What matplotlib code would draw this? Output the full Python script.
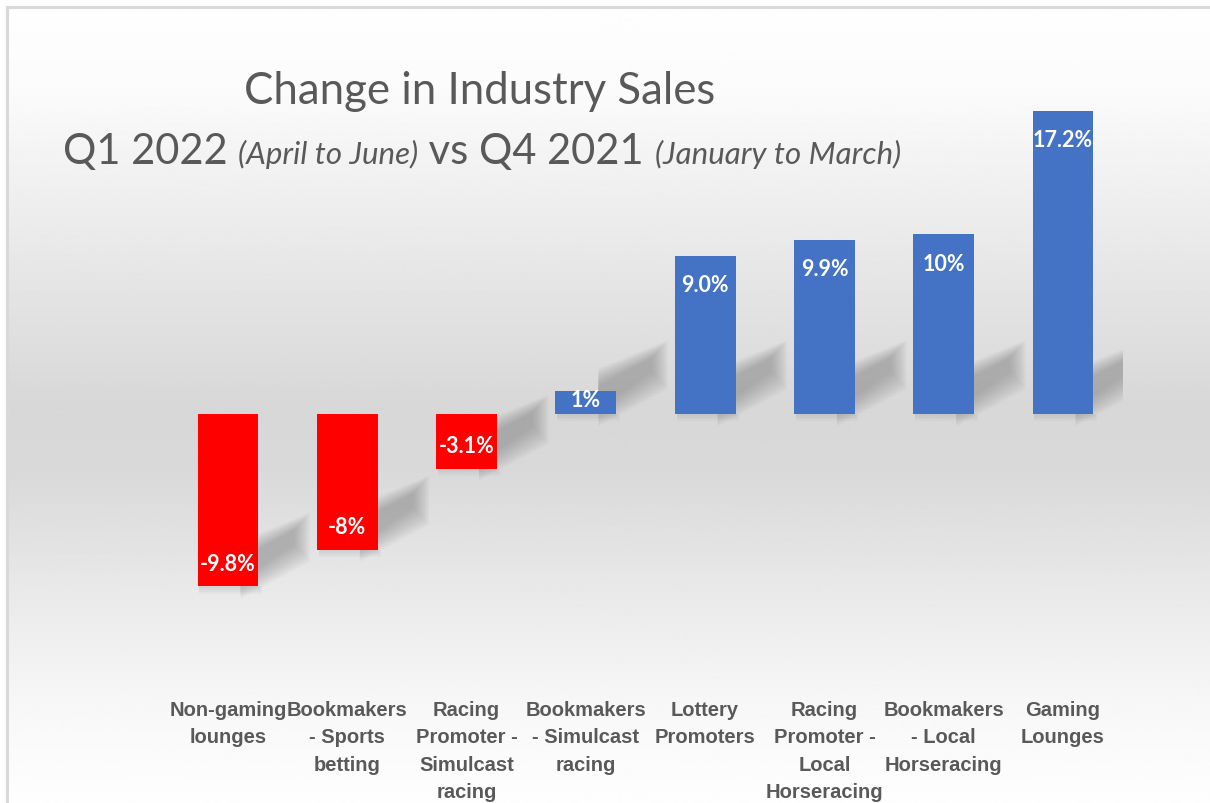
import matplotlib.pyplot as plt
from matplotlib.lines import Line2D
from matplotlib.patches import Polygon
import numpy as np

categories = ['Non-gaming\nlounges', 'Bookmakers\n- Sports\nbetting',
              'Racing\nPromoter -\nSimulcast\nracing', 'Bookmakers\n- Simulcast\nracing',
              'Lottery\nPromoters', 'Racing\nPromoter -\nLocal\nHorseracing',
              'Bookmakers\n- Local\nHorseracing', 'Gaming\nLounges']
values = [-9.8, -7.7, -3.1, 1.3, 9.0, 9.9, 10.2, 17.2]
labels = ['-9.8%', '-8%', '-3.1%', '1%', '9.0%', '9.9%', '10%', '17.2%']

RED = '#ff0000'
BLUE = '#4472c4'
GREY = '#595959'

W, H = 1210, 804
fig = plt.figure(figsize=(W / 100, H / 100), dpi=100)
fig.patch.set_facecolor('white')

# background gradient inside the frame
bg = fig.add_axes([8 / W, 0, 1 - 8 / W, 1 - 9 / H], zorder=-5)
stops_y = [0.0, 0.10, 0.25, 0.50, 0.58, 0.75, 0.88, 1.0]
stops_v = [0.995, 0.985, 0.93, 0.845, 0.85, 0.92, 0.97, 0.995]
yy = np.linspace(0, 1, 400)
grad = np.interp(yy, stops_y, stops_v)[:, None]
bg.imshow(grad, aspect='auto', cmap='gray', vmin=0, vmax=1, extent=[0, 1, 1, 0])
bg.set_axis_off()

# frame lines (top and left)
fig.add_artist(Line2D([7 / W, 1], [1 - 8 / H, 1 - 8 / H], color='#d9d9d9', lw=2.2))
fig.add_artist(Line2D([7 / W, 7 / W], [0, 1 - 8 / H], color='#d9d9d9', lw=2.2))

ax = fig.add_axes([168.3 / W, 125 / H, 954.4 / W, 616 / H])
ax.patch.set_alpha(0)
x = np.arange(len(values))
colors = [RED if v < 0 else BLUE for v in values]
bars = ax.bar(x, values, width=0.51, color=colors, zorder=3)
ax.set_xlim(-0.5, len(values) - 0.5)
ax.set_ylim(-15, 20)

# soft diagonal shadows behind the bars
for xi, v in zip(x, values):
    xr = xi + 0.255
    yb = min(v, 0)
    n = 12
    for k in range(n):
        e = k * 0.012
        ey = k * 0.09
        pts = [(xr - 0.15, yb + 0.3 - ey), (xr + 0.30 + e, yb + 2.4 - ey),
               (xr + 0.30 + e, yb + 3.2 + ey), (xr - 0.15, yb + 1.6 + ey)]
        ax.add_patch(Polygon(pts, closed=True, facecolor='#707070', edgecolor='none',
                             alpha=0.045, zorder=2))
    # faint shadow just under the bar
    for k in range(4):
        d = 0.1 * (k + 1)
        ax.add_patch(Polygon([(xi - 0.24, yb), (xr + 0.01 * k, yb), (xr + 0.01 * k, yb - d),
                              (xi - 0.24, yb - d)], closed=True, facecolor='#9a9a9a',
                             edgecolor='none', alpha=0.07, zorder=2))

for b, v, lab in zip(bars, values, labels):
    cx = b.get_x() + b.get_width() / 2
    kw = dict(textcoords='offset points', ha='center', color='white', fontsize=15.5,
              fontweight='bold', family='Lato', zorder=4)
    if abs(v) < 2:
        ax.annotate(lab, (cx, v / 2), xytext=(0, 2), va='center', **kw)
    elif v > 0:
        ax.annotate(lab, (cx, v), xytext=(0, -13), va='top', **kw)
    else:
        ax.annotate(lab, (cx, v), xytext=(0, 9), va='bottom', **kw)

ax.set_xticks(x)
ax.set_xticklabels(categories, fontsize=14.5, fontweight='bold', color=GREY,
                   family='Liberation Sans', linespacing=1.55)
ax.tick_params(axis='x', length=0, pad=16)
ax.set_yticks([])
for s in ax.spines.values():
    s.set_visible(False)

# title
fig.text(480 / W, 1 - 104 / H, 'Change in Industry Sales', ha='center', va='baseline',
         fontsize=31.5, color=GREY, family='Lato')
pieces = [('Q1 2022 ', 30, 'normal'), ('(April to June)', 22.5, 'italic'), (' vs ', 30, 'normal'),
          ('Q4 2021 ', 30, 'normal'), ('(January to March)', 22.5, 'italic')]
renderer = fig.canvas.get_renderer()
xp = 63
for txt, fs, st in pieces:
    t = fig.text(xp / W, 1 - 164 / H, txt, ha='left', va='baseline', fontsize=fs,
                 style=st, color=GREY, family='Lato')
    bb = t.get_window_extent(renderer)
    xp = bb.x1

fig.savefig('out.png', dpi=100)
